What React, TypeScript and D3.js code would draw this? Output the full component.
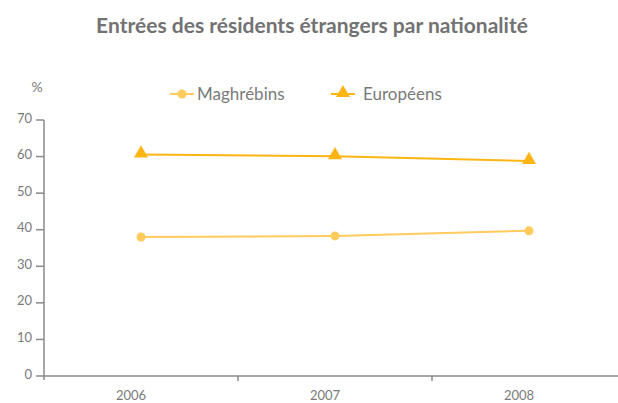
import * as React from "react"
import * as d3 from "d3"

const years = ["2006", "2007", "2008"]
const maghrebins = [38.0, 38.3, 39.7]
const europeens = [60.6, 60.1, 58.8]
const yTicks = [0, 10, 20, 30, 40, 50, 60, 70]

const W = 618
const H = 403
const margin = { top: 120, right: -8, bottom: 27, left: 44 }

const colMag = "#FFCB5C"
const colEur = "#FDB515"
const textCol = "#7a7a7a"
const axisCol = "#8a8a8a"
const font = "Lato, 'Open Sans', sans-serif"

export default function App() {
  const svgRef = React.useRef<SVGSVGElement>(null)

  React.useEffect(() => {
    if (!svgRef.current) return
    const svg = d3.select(svgRef.current)
    svg.selectAll("*").remove()

    const x = d3
      .scaleBand<string>()
      .domain(years)
      .range([margin.left, W - margin.right])
    const y = d3
      .scaleLinear()
      .domain([0, 70])
      .range([H - margin.bottom, margin.top])

    // title
    svg
      .append("text")
      .attr("x", W / 2 + 3)
      .attr("y", 33)
      .attr("text-anchor", "middle")
      .style("font-family", font)
      .style("font-weight", "bold")
      .style("font-size", "21px")
      .style("fill", "#727272")
      .text("Entrées des résidents étrangers par nationalité")

    // % unit
    svg
      .append("text")
      .attr("x", 37)
      .attr("y", 92)
      .attr("text-anchor", "middle")
      .style("font-family", font)
      .style("font-size", "14px")
      .style("fill", textCol)
      .text("%")

    // y axis
    const yAxis = svg.append("g").attr("transform", `translate(${margin.left},0)`)
    yAxis
      .append("line")
      .attr("y1", y(70))
      .attr("y2", y(0) + 4)
      .attr("stroke", axisCol)
      .attr("stroke-width", 1.5)
    yAxis
      .selectAll(".yt")
      .data(yTicks)
      .enter()
      .append("line")
      .attr("x1", -8)
      .attr("x2", 0)
      .attr("y1", (d) => y(d))
      .attr("y2", (d) => y(d))
      .attr("stroke", axisCol)
      .attr("stroke-width", 1.5)
    yAxis
      .selectAll(".yl")
      .data(yTicks)
      .enter()
      .append("text")
      .attr("x", -12)
      .attr("y", (d) => y(d) - 2)
      .attr("dy", "0.35em")
      .attr("text-anchor", "end")
      .style("font-family", font)
      .style("font-size", "13px")
      .style("fill", textCol)
      .text((d) => d)

    // x axis
    const xAxis = svg.append("g").attr("transform", `translate(0,${y(0)})`)
    xAxis
      .append("line")
      .attr("x1", margin.left)
      .attr("x2", W)
      .attr("stroke", axisCol)
      .attr("stroke-width", 1.5)
    xAxis
      .selectAll(".xt")
      .data(years.slice(1))
      .enter()
      .append("line")
      .attr("x1", (d) => x(d)!)
      .attr("x2", (d) => x(d)!)
      .attr("y1", 0)
      .attr("y2", 5)
      .attr("stroke", axisCol)
      .attr("stroke-width", 1.5)
    xAxis
      .selectAll(".xl")
      .data(years)
      .enter()
      .append("text")
      .attr("x", (d) => x(d)! + x.bandwidth() / 2 - 10)
      .attr("y", 24)
      .attr("text-anchor", "middle")
      .style("font-family", font)
      .style("font-size", "13px")
      .style("fill", textCol)
      .text((d) => d)

    const cx = (i: number) => x(years[i])! + x.bandwidth() / 2
    const line = d3
      .line<number>()
      .x((_, i) => cx(i))
      .y((d) => y(d))

    // Maghrébins
    svg
      .append("path")
      .attr("d", line(maghrebins))
      .attr("fill", "none")
      .attr("stroke", colMag)
      .attr("stroke-width", 2)
    svg
      .selectAll(".mag")
      .data(maghrebins)
      .enter()
      .append("circle")
      .attr("cx", (_, i) => cx(i))
      .attr("cy", (d) => y(d))
      .attr("r", 4.5)
      .attr("fill", colMag)

    // Européens
    const tri = d3.symbol().type(d3.symbolTriangle).size(85)
    svg
      .append("path")
      .attr("d", line(europeens))
      .attr("fill", "none")
      .attr("stroke", colEur)
      .attr("stroke-width", 2)
    svg
      .selectAll(".eur")
      .data(europeens)
      .enter()
      .append("path")
      .attr("d", tri()!)
      .attr("transform", (d, i) => `translate(${cx(i)},${y(d) - 1})`)
      .attr("fill", colEur)

    // legend
    const leg = svg.append("g").attr("transform", "translate(0,94)")
    leg
      .append("line")
      .attr("x1", 170)
      .attr("x2", 194)
      .attr("stroke", colMag)
      .attr("stroke-width", 2)
    leg.append("circle").attr("cx", 182).attr("r", 4.5).attr("fill", colMag)
    leg
      .append("text")
      .attr("x", 197)
      .attr("dy", "0.35em")
      .style("font-family", font)
      .style("font-size", "17px")
      .style("fill", textCol)
      .text("Maghrébins")
    leg
      .append("line")
      .attr("x1", 331)
      .attr("x2", 355)
      .attr("stroke", colEur)
      .attr("stroke-width", 2)
    leg
      .append("path")
      .attr("d", tri()!)
      .attr("transform", "translate(343,-1)")
      .attr("fill", colEur)
    leg
      .append("text")
      .attr("x", 363)
      .attr("dy", "0.35em")
      .style("font-family", font)
      .style("font-size", "17px")
      .style("fill", textCol)
      .text("Européens")
  }, [])

  return (
    <svg
      ref={svgRef}
      width={W}
      height={H}
      viewBox={`0 0 ${W} ${H}`}
      style={{ position: "absolute", left: 0, top: 0, background: "#fff" }}
    />
  )
}
